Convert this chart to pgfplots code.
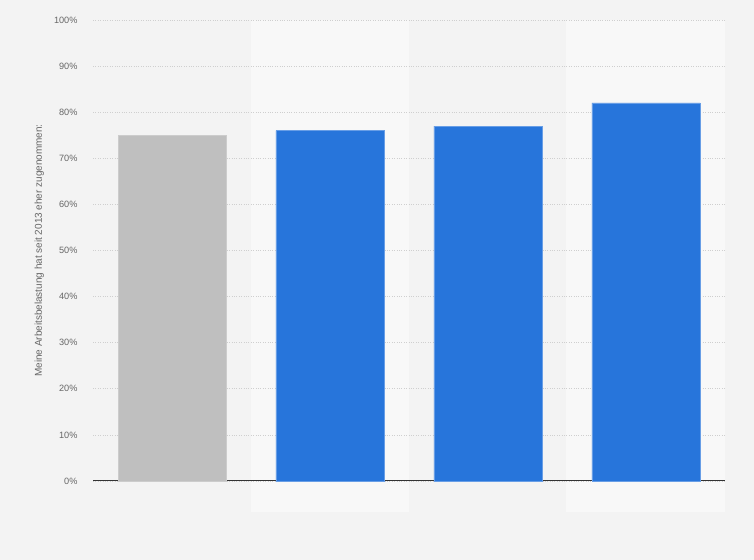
\documentclass[border=0pt]{standalone}
\usepackage{fontspec}
\setmainfont{Liberation Sans}
\usepackage{pgfplots}
\pgfplotsset{compat=1.18}
\definecolor{bgcol}{HTML}{F3F3F3}
\definecolor{bandcol}{HTML}{F8F8F8}
\definecolor{barblue}{HTML}{2775DB}
\definecolor{bargray}{HTML}{BFBFBF}
\definecolor{txtgray}{HTML}{666666}
\definecolor{gridcol}{HTML}{CFCFCF}

\begin{document}
\begin{tikzpicture}[x=1bp,y=1bp]
  % background and alternating column bands (picture px, y up)
  \fill[bgcol] (0,0) rectangle (754,560);
  \fill[bandcol] (251,48) rectangle (409,540);
  \fill[bandcol] (566,48) rectangle (725,540);
  \begin{axis}[
      at={(93bp,79bp)}, anchor=south west,
      scale only axis,
      width=632bp, height=461bp,
      ybar, bar shift=0pt, bar width=0.684,
      xmin=-0.5, xmax=3.5,
      ymin=0, ymax=100,
      xtick=\empty,
      ytick={0,10,...,100},
      yticklabel={\pgfmathprintnumber{\tick}\%},
      /pgf/number format/assume math mode=true,
      tick label style={font=\fontsize{9.2}{11}\selectfont, text=txtgray},
      yticklabel style={xshift=-12bp},
      major tick length=0pt,
      ymajorgrids,
      grid style={gridcol, dotted, line width=0.7bp},
      axis x line*=bottom,
      axis y line*=left,
      y axis line style={draw=none},
      x axis line style={draw=black!80, line width=1bp, -},
      ylabel={Meine Arbeitsbelastung hat seit 2013 eher zugenommen:},
      ylabel style={font=\fontsize{10}{12}\selectfont, text=txtgray,
        at={(axis description cs:-0.085,0.5)}, anchor=center, rotate=0},
      clip=false,
    ]
    \addplot[fill=bargray, draw=bargray!80!white, line width=0.6bp]
      coordinates {(0,75)};
    \addplot[fill=barblue, draw=barblue!70!white, line width=0.6bp]
      coordinates {(1,76) (2,77) (3,82)};
  \end{axis}
\end{tikzpicture}
\end{document}
